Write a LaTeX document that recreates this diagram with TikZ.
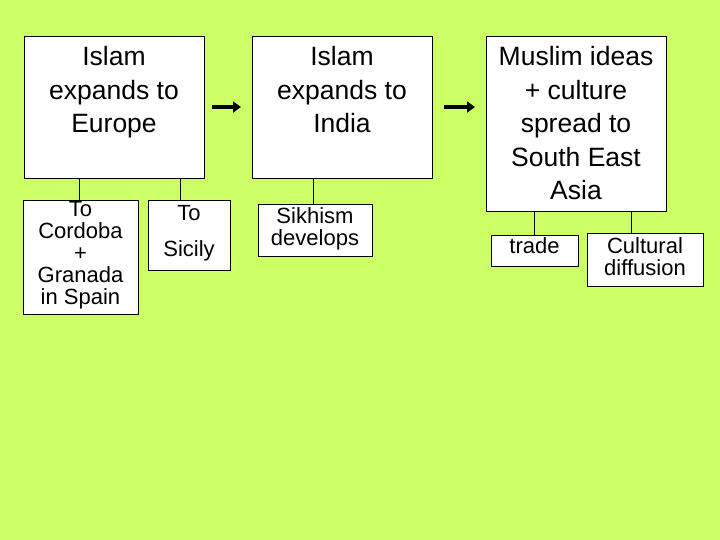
\documentclass[tikz,border=0pt]{standalone}
\usepackage{fontspec}
\setmainfont{Liberation Sans}
\usetikzlibrary{arrows.meta}
\definecolor{bg}{HTML}{CCFF66}
\begin{document}
\begin{tikzpicture}[x=1pt,y=-1pt,
  big/.style={draw=black,fill=white,line width=0.8pt,inner sep=0pt},
  small/.style={draw=black,fill=white,line width=0.8pt,inner sep=0pt},
  bt/.style={anchor=north,font=\fontsize{26.5}{33.5}\selectfont,align=center},
  st/.style={anchor=north,font=\fontsize{22}{22}\selectfont,align=center},
  arr/.style={line width=3.5pt,-{Triangle[length=8pt,width=11pt]}}]
\fill[bg] (0,0) rectangle (720,540);
\useasboundingbox (0,0) rectangle (720,540);
\node[big,minimum width=180,minimum height=142,anchor=north west] (b1) at (24,36) {};
\node[bt] at (114,43) {Islam\\expands to\\Europe};
\node[big,minimum width=180,minimum height=142,anchor=north west] (b2) at (252,36) {};
\node[bt] at (342,43) {Islam\\expands to\\India};
\node[big,minimum width=180,minimum height=175,anchor=north west] (b3) at (486,36) {};
\node[bt] at (576,43) {Muslim ideas\\+ culture\\spread to\\South East\\Asia};
\node[small,minimum width=115,minimum height=114,anchor=north west] (s1) at (23,200) {};
\node[st] at (80.5,198) {To\\Cordoba\\+\\Granada\\in Spain};
\node[small,minimum width=82,minimum height=70,anchor=north west] (s2) at (148,200) {};
\node[st,font=\fontsize{22}{36}\selectfont] at (189,202) {To\\Sicily};
\node[small,minimum width=114,minimum height=52,anchor=north west] (s3) at (258,204) {};
\node[st] at (315,204) {Sikhism\\develops};
\node[small,minimum width=87,minimum height=31,anchor=north west] (s4) at (491,235) {};
\node[st] at (534.5,234) {trade};
\node[small,minimum width=116,minimum height=53,anchor=north west] (s5) at (587,233) {};
\node[st] at (645,234) {Cultural\\diffusion};
\draw (b1.south west) ++(55,0) coordinate (c1) (c1) -- (s1.north -| c1);
\draw (180,178) -- (s2.north -| 180,0);
\draw (313,178) -- (s3.north -| 313,0);
\draw (534,211) -- (s4.north -| 534,0);
\draw (631,211) -- (s5.north -| 631,0);
\coordinate (a1) at (212,107); \coordinate (a2) at (241,107);
\coordinate (a3) at (444,107); \coordinate (a4) at (475,107);
\draw[arr] (a1) -- (a2);
\draw[arr] (a3) -- (a4);
\end{tikzpicture}
\end{document}
